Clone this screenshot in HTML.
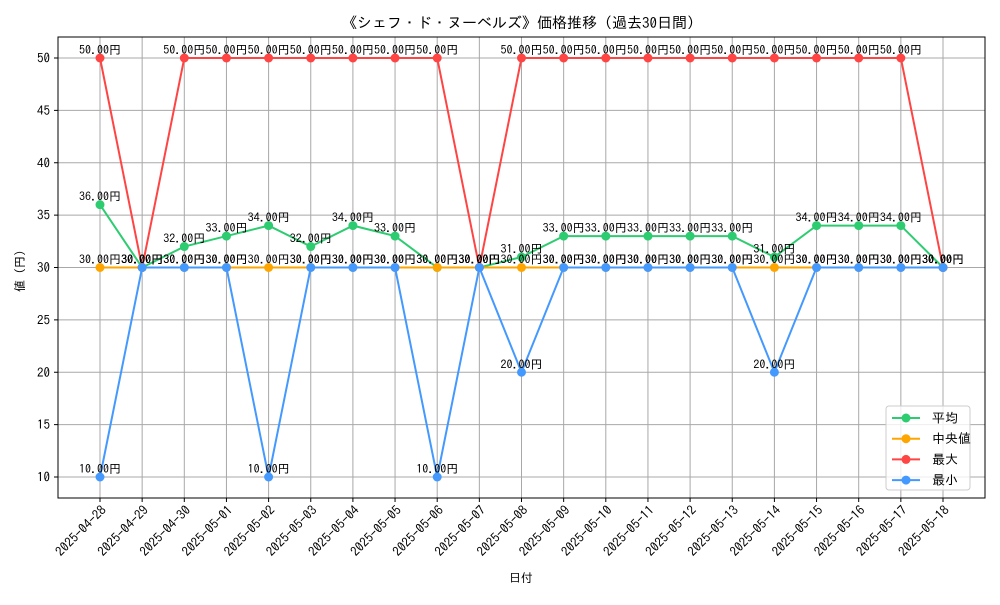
<!DOCTYPE html>
<html><head><meta charset="utf-8">
<style>
body{margin:0;background:#fff;}
svg text{font-family:"IPAGothic","Noto Sans CJK JP",monospace;fill:#000;}
</style></head>
<body>
<svg id="chart" width="1000" height="600" xmlns="http://www.w3.org/2000/svg">
<rect width="1000" height="600" fill="#fff"/>
<text x="522" y="28" font-size="15" text-anchor="middle">《シェフ・ド・ヌーベルズ》価格推移（過去30日間）</text>
<g id="grid"></g>
<g id="series"></g>
<g id="labels"></g>
<rect x="58" y="37" width="927" height="461" fill="none" stroke="#000" stroke-width="1"/>
<g id="axes"></g>
<text x="521" y="582" font-size="12" text-anchor="middle">日付</text>
<text transform="translate(24,268) rotate(-90)" font-size="12" text-anchor="middle">値（円）</text>
<g>
<rect x="886" y="406" width="84" height="84" rx="3" fill="#fff" fill-opacity="0.8" stroke="#ccc"/>
<g id="legend"></g>
</g>
</svg>
<script>
const dates=["2025-04-28","2025-04-29","2025-04-30","2025-05-01","2025-05-02","2025-05-03","2025-05-04","2025-05-05","2025-05-06","2025-05-07","2025-05-08","2025-05-09","2025-05-10","2025-05-11","2025-05-12","2025-05-13","2025-05-14","2025-05-15","2025-05-16","2025-05-17","2025-05-18"];
const avgValues=[36,30,32,33,34,32,34,33,30,30,31,33,33,33,33,33,31,34,34,34,30];
const medianValues=[30,30,30,30,30,30,30,30,30,30,30,30,30,30,30,30,30,30,30,30,30];
const maxValues=[50,30,50,50,50,50,50,50,50,30,50,50,50,50,50,50,50,50,50,50,30];
const minValues=[10,30,30,30,10,30,30,30,10,30,20,30,30,30,30,30,20,30,30,30,30];
const yTicks=[10,15,20,25,30,35,40,45,50];
const NS="http://www.w3.org/2000/svg";
const X=i=>100+(i)*(843/20);
const Y=v=>477-(v-10)*(419/40);
function mk(tag,attrs,parent){const e=document.createElementNS(NS,tag);for(const k in attrs)e.setAttribute(k,attrs[k]);parent.appendChild(e);return e;}
const grid=document.getElementById('grid'),axes=document.getElementById('axes');
yTicks.forEach(v=>{
 const l=mk('line',{x1:58,x2:985,y1:Y(v),y2:Y(v),stroke:'#a8a8a8','stroke-width':1},grid);
 
 
 const t=mk('line',{x1:54,x2:58,y1:Y(v),y2:Y(v),stroke:'#000'},axes);
 
 
 const tx=mk('text',{x:50,y:Y(v)+4.5,'font-size':13,'text-anchor':'end'},axes);
 tx.textContent=v;
 
 
});
dates.forEach((d,i)=>{
 const l=mk('line',{x1:X(i),x2:X(i),y1:37,y2:498,stroke:'#a8a8a8','stroke-width':1},grid);
 
 
 const t=mk('line',{x1:X(i),x2:X(i),y1:498,y2:502,stroke:'#000'},axes);
 
 
 const tx=mk('text',{transform:`translate(${X(i)+7},${511}) rotate(-45)`,'font-size':13,'text-anchor':'end'},axes);
 tx.textContent=d;
 
 
});
const series=[["avg","平均",avgValues,"#2ecc71"],["median","中央値",medianValues,"#ffa500"],["max","最大",maxValues,"#ff4444"],["min","最小",minValues,"#4499ff"]];
const sg=document.getElementById('series'),lg=document.getElementById('labels'),leg=document.getElementById('legend');
series.forEach(([key,name,vals,col],si)=>{
 const g=mk('g',{},sg);
 
 
 const p=mk('polyline',{points:vals.map((v,i)=>X(i)+','+Y(v)).join(' '),fill:'none',stroke:col,'stroke-width':2},g);
 
 
 vals.forEach((v,i)=>{
  const c=mk('circle',{cx:X(i),cy:Y(v),r:4.5,fill:col},g);
  
  
  const t=mk('text',{x:X(i),y:Y(v)-4,'font-size':12,'text-anchor':'middle'},lg);
  t.textContent=v.toFixed(2)+'円';
  
  
 });
 const ly=418+si*20.7;
 const e=mk('g',{},leg);
 
 
 mk('line',{x1:892,x2:920,y1:ly,y2:ly,stroke:col,'stroke-width':2},e);
 mk('circle',{cx:906,cy:ly,r:4.5,fill:col},e);
 const lt=mk('text',{x:932,y:ly+4.5,'font-size':13},e);
 lt.textContent=name;
});
</script>
</body></html>
